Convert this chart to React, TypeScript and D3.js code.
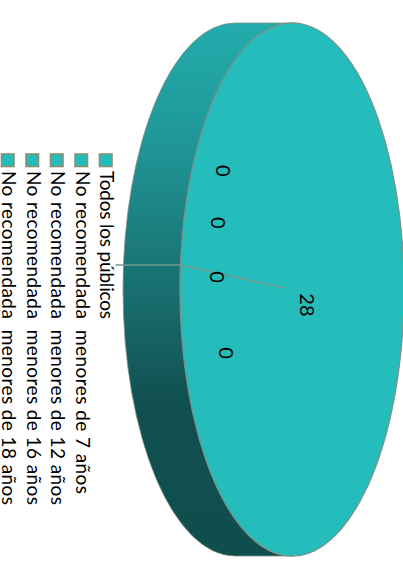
import React from "react";
import * as d3 from "d3";

const categories = [
  "Todos los públicos",
  "No recomendada  menores de 7 años",
  "No recomendada  menores de 12 años",
  "No recomendada  menores de 16 años",
  "No recomendada  menores de 18 años",
];
const values = [28, 0, 0, 0, 0];
const legendLengths = [148, 323, 334, 334, 334];

const W = 403, H = 565;
const cx = 292, cy = 289.5, rx = 112, ry = 266.5, depth = 57;
const startAngle = -1.479;
// label anchors, in units of the pie's radii from its centre
const labelAnchors = [
  [0.14, 0.058],
  [-0.578, 0.238],
  [-0.659, -0.047],
  [-0.65, -0.25],
  [-0.605, -0.445],
];
const labelOrder = [0, 4, 3, 2, 1];
const sideStops: [number, string][] = [
  [0, "#23abab"], [0.2, "#20999a"], [0.35, "#1d8485"], [0.47, "#1a7374"], [0.6, "#166060"], [0.72, "#104f4f"], [1, "#0f4e4c"],
];

export default function App() {
  const px = d3.scaleLinear().domain([-1, 1]).range([cx - rx, cx + rx]);
  const py = d3.scaleLinear().domain([-1, 1]).range([cy - ry, cy + ry]);
  const pie = d3.pie<number>().sort(null).startAngle(startAngle).endAngle(startAngle + 2 * Math.PI);
  const slices = pie(values);
  const unitArc = d3.arc<d3.PieArcDatum<number>>().innerRadius(0).outerRadius(1);
  const edgeX = px(Math.sin(startAngle));
  const edgeY = py(-Math.cos(startAngle));

  const legendX = d3.scalePoint<string>().domain([...categories].reverse()).range([2, 100]);
  const stroke = "#7f9088";
  const sidePath = `M${cx},${cy - ry} L${cx - depth},${cy - ry} A${rx},${ry} 0 0 0 ${cx - depth},${cy + ry} L${cx},${cy + ry} Z`;

  return (
    <svg width={W} height={H} style={{ position: "fixed", left: 0, top: 0, background: "#fff" }}>
      <defs>
        <linearGradient id="side" x1="0" y1="0" x2="0" y2="1">
          {sideStops.map(([o, c]) => <stop key={o} offset={o} stopColor={c} />)}
        </linearGradient>
      </defs>
      <path d={sidePath} fill="url(#side)" stroke={stroke} strokeWidth={0.8} />
      <g transform={`translate(${cx},${cy}) scale(${rx},${ry})`}>
        {slices.map((s, i) => (
          <path key={i} d={unitArc(s) ?? ""} fill="#25bcbc" stroke={i === 0 ? stroke : "none"} strokeWidth={1.2} vectorEffect="non-scaling-stroke" />
        ))}
      </g>
      <path
        d={`M${edgeX - 65},${edgeY} L${edgeX},${edgeY} L${cx - 7},${cy - 1.5}`}
        fill="none" stroke="#6f9a94" strokeWidth={1.6}
      />
      {labelOrder.map((vi, i) => {
        const [ax, ay] = labelAnchors[i];
        return (
          <text key={i} transform={`translate(${px(ax)},${py(ay)}) rotate(90)`} textAnchor="middle" dominantBaseline="central"
            fontFamily="Lato, Carlito, sans-serif" fontSize={20} fill="#000">
            {values[vi]}
          </text>
        );
      })}
      {categories.map((c, i) => {
        const x = legendX(c)!;
        return (
          <g key={c}>
            <rect x={x - 0.5} y={154} width={12.5} height={12.5} fill="#25bcbc" stroke="#8a8f72" strokeWidth={1.6} />
            <text transform={`translate(${x},171) rotate(90)`} fontFamily="Lato, Carlito, sans-serif" fontSize={19} fill="#000"
              textLength={legendLengths[i]} lengthAdjust="spacing" style={{ whiteSpace: "pre" }}>
              {c}
            </text>
          </g>
        );
      })}
    </svg>
  );
}
